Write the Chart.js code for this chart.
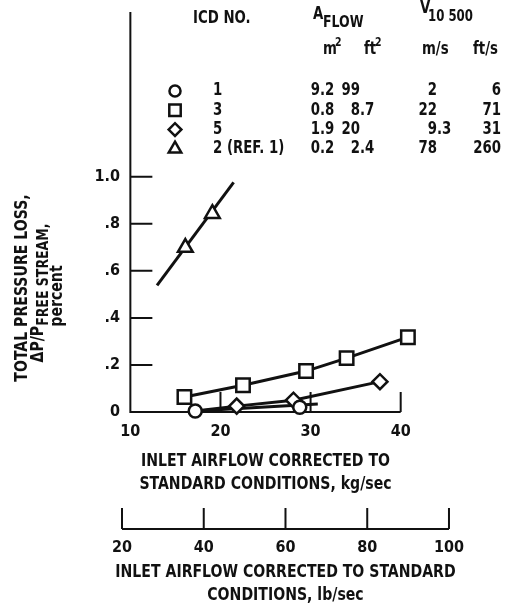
<!DOCTYPE html>
<html>
<head>
<meta charset="utf-8">
<title>Inlet pressure loss</title>
<script src="https://cdn.jsdelivr.net/npm/chart.js@4.4.1/dist/chart.umd.min.js"></script>
<style>
  html, body { margin: 0; padding: 0; background: #fff; }
  canvas { display: block; }
</style>
</head>
<body>
<canvas id="lossChart" width="506" height="607"></canvas>
<script>
// ---- axis ticks ----
const kgTicks = [10, 20, 30, 40];
const lbTicks = [20, 40, 60, 80, 100];
const lossTicks = [0, 0.2, 0.4, 0.6, 0.8, 1.0];
const lossTickLabels = ["0", ".2", ".4", ".6", ".8", "1.0"];

// ---- ICD 1 (circles) ----
const icd1Flow = [17.2, 28.8];
const icd1Loss = [0.004, 0.02];
const icd1FairFlow = [17.2, 30.8];
const icd1FairLoss = [0.004, 0.034];

// ---- ICD 3 (squares) ----
const icd3Flow = [16.0, 22.5, 29.5, 34.0, 40.8];
const icd3Loss = [0.064, 0.114, 0.174, 0.229, 0.318];

// ---- ICD 5 (diamonds) ----
const icd5Flow = [21.8, 28.1, 37.7];
const icd5Loss = [0.025, 0.05, 0.129];
const icd5FairFlow = [17.2, 21.8, 28.1, 37.7];
const icd5FairLoss = [0.004, 0.025, 0.05, 0.129];

// ---- ICD 2, ref. 1 (triangles) ----
const icd2Flow = [16.1, 19.1];
const icd2Loss = [0.699, 0.843];
const icd2FairFlow = [12.96, 21.46];
const icd2FairLoss = [0.538, 0.976];

// ---- key table ----
const icdNames = ["1", "3", "5", "2 (REF. 1)"];
const icdStyles = ["circle", "rect", "rectRot", "triangle"];
const areaM2 = ["9.2", "0.8", "1.9", "0.2"];
const areaFt2 = ["99", "8.7", "20", "2.4"];
const velMs = ["2", "22", "9.3", "78"];
const velFts = ["6", "71", "31", "260"];

const LB_PER_KG = 2.20462;
const INK = "#111";
const FAMILY = "'Liberation Sans Narrow', 'DejaVu Sans Condensed', sans-serif";
const SQUEEZE = 0.87;   // narrow lettering: taller glyphs, squeezed sideways
const markerRadius = { circle: 6.5, rect: 9.5, rectRot: 7.5, triangle: 8.5 };

const pts = (xs, ys) => xs.map((v, i) => ({ x: v, y: ys[i] }));

function markerSet(xs, ys, style, withLine) {
  return {
    data: pts(xs, ys),
    showLine: !!withLine,
    borderColor: INK,
    borderWidth: 3,
    pointStyle: style,
    pointRadius: markerRadius[style],
    pointBorderWidth: 2.5,
    pointBorderColor: INK,
    pointBackgroundColor: "#fff",
    order: 1,
    clip: false
  };
}

function fairedLine(xs, ys) {
  return {
    data: pts(xs, ys),
    showLine: true,
    borderColor: INK,
    borderWidth: 3,
    pointRadius: 0,
    order: 2,
    clip: false
  };
}

// same geometry Chart.js uses for its point styles
function drawMarker(ctx, style, x, y, r) {
  ctx.beginPath();
  if (style === "circle") {
    ctx.arc(x, y, r, 0, Math.PI * 2);
  } else if (style === "rect") {
    const s = r * Math.SQRT1_2;
    ctx.rect(x - s, y - s, 2 * s, 2 * s);
  } else if (style === "rectRot") {
    ctx.moveTo(x - r, y); ctx.lineTo(x, y - r); ctx.lineTo(x + r, y); ctx.lineTo(x, y + r);
    ctx.closePath();
  } else {
    const h = r * Math.sqrt(3) / 2;
    ctx.moveTo(x, y - r); ctx.lineTo(x + h, y + r / 2); ctx.lineTo(x - h, y + r / 2);
    ctx.closePath();
  }
  ctx.fillStyle = "#fff";
  ctx.fill();
  ctx.lineWidth = 2.5;
  ctx.strokeStyle = INK;
  ctx.stroke();
}

function fontOf(size) {
  return "bold " + size + "px " + FAMILY;
}

function textWidth(ctx, str, size) {
  ctx.font = fontOf(size);
  return ctx.measureText(str).width * SQUEEZE;
}

function put(ctx, str, x, y, size, align) {
  ctx.save();
  ctx.translate(x, y);
  ctx.scale(SQUEEZE, 1);
  ctx.font = fontOf(size);
  ctx.textAlign = align || "left";
  ctx.fillText(str, 0, 0);
  ctx.restore();
}

// integer part right of the point, fraction left
function putDecimal(ctx, str, xPoint, y, size) {
  const parts = str.split(".");
  put(ctx, parts[0], xPoint, y, size, "right");
  if (parts.length > 1) put(ctx, "." + parts[1], xPoint, y, size, "left");
}

const paperAxes = {
  id: "paperAxes",
  beforeDatasetsDraw(chart) {
    const { ctx, chartArea } = chart;
    const { x, x2, y } = chart.scales;
    const xStart = x.getPixelForValue(kgTicks[0]);
    const xEnd = x.getPixelForValue(kgTicks[kgTicks.length - 1]);
    const y0 = y.getPixelForValue(0);
    const lbY = x2.top + 33;

    ctx.save();
    ctx.strokeStyle = INK;
    ctx.lineWidth = 2;
    ctx.beginPath();
    ctx.moveTo(xStart, chartArea.top);
    ctx.lineTo(xStart, y0);
    ctx.lineTo(xEnd, y0);
    lossTicks.forEach(v => {
      if (v === 0) return;
      const py = y.getPixelForValue(v);
      ctx.moveTo(xStart, py);
      ctx.lineTo(xStart + 22, py);
    });
    kgTicks.slice(1).forEach(v => {
      const px = x.getPixelForValue(v);
      ctx.moveTo(px, y0);
      ctx.lineTo(px, y0 - 20);
    });
    // lb/sec scale underneath
    ctx.moveTo(x2.getPixelForValue(lbTicks[0]), lbY);
    ctx.lineTo(x2.getPixelForValue(lbTicks[lbTicks.length - 1]), lbY);
    lbTicks.forEach(v => {
      const px = x2.getPixelForValue(v);
      ctx.moveTo(px, lbY);
      ctx.lineTo(px, lbY - 21);
    });
    ctx.stroke();
    ctx.restore();
  },
  afterDraw(chart) {
    const { ctx } = chart;
    const { x, x2 } = chart.scales;
    ctx.save();
    ctx.fillStyle = INK;
    ctx.textBaseline = "middle";

    // kg/sec title, centred under the 10-40 span
    const cx = (x.getPixelForValue(kgTicks[0]) + x.getPixelForValue(kgTicks[kgTicks.length - 1])) / 2;
    put(ctx, "INLET AIRFLOW CORRECTED TO", cx, 461, 18, "center");
    put(ctx, "STANDARD CONDITIONS, kg/sec", cx, 484, 18, "center");

    // lb/sec title
    const cx2 = (x2.getPixelForValue(lbTicks[0]) + x2.getPixelForValue(lbTicks[lbTicks.length - 1])) / 2;
    put(ctx, "INLET AIRFLOW CORRECTED TO STANDARD", cx2, 572, 18, "center");
    put(ctx, "CONDITIONS, lb/sec", cx2, 595, 18, "center");

    // y title, rotated
    ctx.save();
    ctx.translate(22, 288);
    ctx.rotate(-Math.PI / 2);
    put(ctx, "TOTAL PRESSURE LOSS,", 0, 0, 18, "center");
    ctx.restore();

    ctx.save();
    ctx.translate(38, 293);
    ctx.rotate(-Math.PI / 2);
    const wMain = textWidth(ctx, "\u0394P/P", 18);
    const wSub = textWidth(ctx, "FREE STREAM,", 16);
    const start = -(wMain + wSub) / 2;
    put(ctx, "\u0394P/P", start, 0, 18, "left");
    put(ctx, "FREE STREAM,", start + wMain, 6, 16, "left");
    ctx.restore();

    ctx.save();
    ctx.translate(57, 296);
    ctx.rotate(-Math.PI / 2);
    put(ctx, "percent", 0, 0, 18, "center");
    ctx.restore();

    // key table
    put(ctx, "ICD NO.", 193, 19, 17);
    put(ctx, "A", 313, 15, 17);
    put(ctx, "FLOW", 323, 23, 16);
    put(ctx, "V", 420, 9, 17);
    put(ctx, "10 500", 428, 17, 15);
    put(ctx, "m", 323, 50, 17);
    put(ctx, "2", 335, 43, 12);
    put(ctx, "ft", 364, 50, 17);
    put(ctx, "2", 375, 43, 12);
    put(ctx, "m/s", 422, 50, 17);
    put(ctx, "ft/s", 473, 50, 17);

    icdNames.forEach((name, i) => {
      const ry = 91 + i * 19.3;
      drawMarker(ctx, icdStyles[i], 175, ry, markerRadius[icdStyles[i]] * 0.85);
      ctx.fillStyle = INK;
      put(ctx, name, 213, ry, 17);
      putDecimal(ctx, areaM2[i], 320, ry, 17);
      putDecimal(ctx, areaFt2[i], 360, ry, 17);
      putDecimal(ctx, velMs[i], 437, ry, 17);
      put(ctx, velFts[i], 501, ry, 17, "right");
    });
    ctx.restore();
  }
};

const tickFont = { family: FAMILY, size: 16, weight: "bold" };

new Chart(document.getElementById("lossChart"), {
  type: "scatter",
  data: {
    datasets: [
      markerSet(icd1Flow, icd1Loss, "circle"),
      fairedLine(icd1FairFlow, icd1FairLoss),
      markerSet(icd3Flow, icd3Loss, "rect", true),
      markerSet(icd5Flow, icd5Loss, "rectRot"),
      fairedLine(icd5FairFlow, icd5FairLoss),
      markerSet(icd2Flow, icd2Loss, "triangle"),
      fairedLine(icd2FairFlow, icd2FairLoss)
    ]
  },
  options: {
    responsive: false,
    devicePixelRatio: 1,
    animation: false,
    events: [],
    layout: { padding: { top: 10, right: 48, bottom: 0, left: 0 } },
    plugins: { legend: { display: false }, tooltip: { enabled: false } },
    scales: {
      x: {
        type: "linear",
        position: "bottom",
        weight: 0,
        min: lbTicks[0] / LB_PER_KG,
        max: lbTicks[lbTicks.length - 1] / LB_PER_KG,
        afterBuildTicks: s => { s.ticks = kgTicks.map(v => ({ value: v })); },
        afterFit: s => { s.height = 84; },
        grid: { display: false, drawTicks: false },
        border: { display: false },
        ticks: { padding: 10, color: INK, font: tickFont, autoSkip: false, maxRotation: 0, callback: v => String(v) }
      },
      x2: {
        type: "linear",
        position: "bottom",
        weight: 1,
        min: lbTicks[0],
        max: lbTicks[lbTicks.length - 1],
        afterBuildTicks: s => { s.ticks = lbTicks.map(v => ({ value: v })); },
        afterFit: s => { s.height = 111; },
        grid: { display: false, drawTicks: false },
        border: { display: false },
        ticks: { padding: 42, color: INK, font: tickFont, autoSkip: false, maxRotation: 0, callback: v => String(v) }
      },
      y: {
        type: "linear",
        position: "left",
        min: 0,
        max: 1.7,
        afterBuildTicks: s => { s.ticks = lossTicks.map(v => ({ value: v })); },
        afterFit: s => { s.width = 122; },
        grid: { display: false, drawTicks: false },
        border: { display: false },
        ticks: { padding: 2, color: INK, font: tickFont, callback: (v, i) => lossTickLabels[i] }
      }
    }
  },
  plugins: [paperAxes]
});
</script>
</body>
</html>
